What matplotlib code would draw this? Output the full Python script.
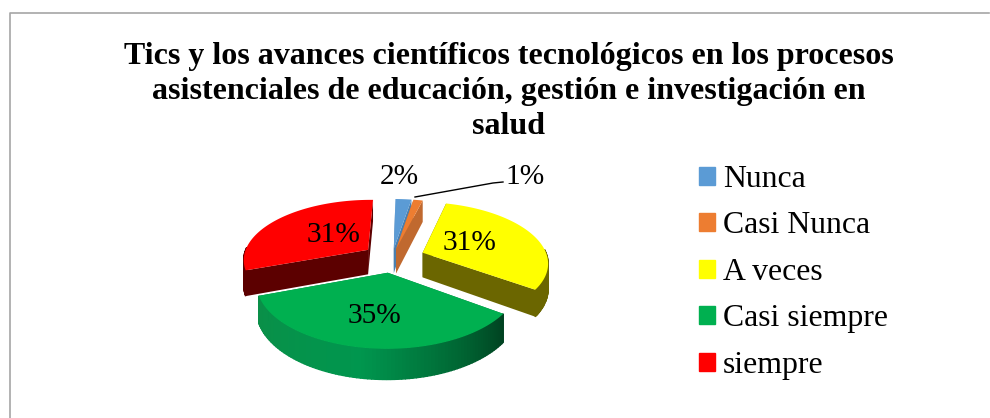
import numpy as np
import matplotlib
matplotlib.use("Agg")
import matplotlib.pyplot as plt
from matplotlib.patches import Patch

plt.rcParams['font.family'] = ['Liberation Serif', 'DejaVu Serif']

# datos del grafico
categorias = ["Nunca", "Casi Nunca", "A veces", "Casi siempre", "siempre"]
valores = [2.4, 1.4, 30.8, 34.6, 30.8]
etiquetas = ["2%", "1%", "31%", "35%", "31%"]
colores = ["#5B9BD5", "#ED7D31", "#FFFF00", "#00B050", "#FF0000"]
colores_lado = ["#4A7FAF", "#C0692F", "#6B6600", "#00803A", "#5C0000"]
titulo = ("Tics y los avances científicos tecnológicos en los procesos\n"
          "asistenciales de educación, gestión e investigación en\n"
          "salud")

# geometria del pastel 3D, en pixeles de la figura
cx, cy = 392, 258
radio = 125
incl = 0.478
persp = 0.15
grosor = 25
inicio = np.radians(1.0)
separacion = [20, 20, 33, 30, 30]
pos_etiquetas = [(399, 177), (525, 177), (470, 243), (374, 316), (333, 235)]


def proyectar(X, Y, z=0.0):
    s = 1 / (1 + persp * Y / radio)
    return cx + X * s, cy - incl * Y * s + z * s


def punto(ang, r, dx, dy, z=0.0):
    return proyectar(dx + r * np.sin(ang), dy + r * np.cos(ang), z)


fig = plt.figure(figsize=(9.9, 4.18), dpi=100)
ax = fig.add_axes([0, 0, 1, 1])
ax.set_xlim(0, 990)
ax.set_ylim(418, 0)
ax.axis("off")

# borde del grafico
ax.plot([9.5, 9.5, 989], [418, 12.5, 12.5], color="#A6A6A6", lw=1.2)

fracc = np.array(valores) / sum(valores)
fin = inicio + np.cumsum(fracc) * 2 * np.pi
ini = fin - fracc * 2 * np.pi

# de atras hacia adelante
orden = [0, 1, 2, 4, 3]
for i in orden:
    medio = (ini[i] + fin[i]) / 2
    dx = separacion[i] * np.sin(medio)
    dy = separacion[i] * np.cos(medio)
    angs = np.linspace(ini[i], fin[i], 80)
    xs, ys = punto(angs, radio, dx, dy)
    ax_, ay_ = punto(0.0, 0.0, dx, dy)

    # caras radiales
    for a in (fin[i], ini[i]):
        x1, y1 = punto(a, radio, dx, dy)
        x2, y2 = punto(a, radio, dx, dy, grosor)
        x3, y3 = punto(0.0, 0.0, dx, dy, grosor)
        ax.fill([ax_, x1, x2, x3], [ay_, y1, y2, y3], color=colores_lado[i], lw=0)

    # pared exterior con degradado
    tramos = np.linspace(ini[i], fin[i], 90)
    for a0, a1 in zip(tramos[:-1], tramos[1:]):
        am = (a0 + a1) / 2
        if np.cos(am) > 0.05:
            continue
        if i == 3:
            col = plt.cm.colors.to_hex(np.array([
                np.interp(np.degrees(am), [122, 150, 190, 248], c)
                for c in ([0, 0, 0, 10], [60, 100, 150, 143], [30, 50, 78, 72])
            ]) / 255)
        else:
            col = colores_lado[i]
        qx0, qy0 = punto(a0, radio, dx, dy)
        qx1, qy1 = punto(a1, radio, dx, dy)
        qx2, qy2 = punto(a1, radio, dx, dy, grosor)
        qx3, qy3 = punto(a0, radio, dx, dy, grosor)
        ax.fill([qx0, qx1, qx2, qx3], [qy0, qy1, qy2, qy3], color=col, lw=1)

    # cara superior
    ax.fill(np.r_[ax_, xs], np.r_[ay_, ys], color=colores[i], lw=0)

ax.text(508.5, 91.5, titulo, ha="center", va="center", fontsize=23, fontweight="bold",
        linespacing=1.28)

for (tx, ty), et in zip(pos_etiquetas, etiquetas):
    ax.text(tx, ty, et, ha="center", va="center", fontsize=21.2)

# linea guia del 1%
ax.plot([415, 493, 503], [197, 183, 182], color="black", lw=1)

handles = [Patch(color=c) for c in colores]
ax.legend(handles, categorias, loc="upper left", bbox_to_anchor=(699, 165),
          bbox_transform=ax.transData, frameon=False, fontsize=22.9, handlelength=0.5,
          handleheight=0.5, handletextpad=0.25, labelspacing=0.55, borderpad=0, borderaxespad=0)

fig.savefig("out.png", dpi=100)
